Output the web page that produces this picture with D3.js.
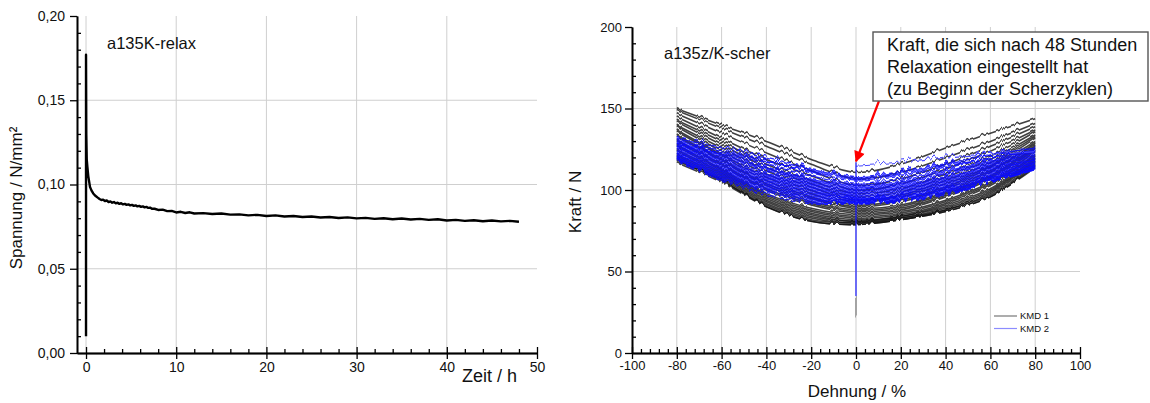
<!DOCTYPE html>
<html><head><meta charset="utf-8">
<script src="https://cdn.jsdelivr.net/npm/d3@7"></script>
<style>
body{margin:0;background:#fff}
svg{display:block}
text{font-family:"Liberation Sans",Arial,Helvetica,sans-serif;fill:#111}
</style>
</head><body>
<svg id="c" width="1150" height="403"></svg>
<script>
// ---------- LEFT CHART DATA (Relaxation) ----------
const relaxTime = [0,0,0.03,0.08,0.15,0.25,0.44,0.6,0.8,1.0,1.3,
  1.5,1.7,1.9,2.1,2.3,2.5,2.7,2.9,3.1,3.3,3.5,3.7,3.9,4.1,4.3,4.5,4.7,4.9,5.1,5.3,5.5,5.7,5.9,6.1,6.3,6.5,6.7,6.9,7.1,7.3,
  7.6,8,8.5,9,9.5,10,10.5,11,11.5,12,13,14,15,16,17,18,19,20,21,22,23,24,25,26,27,28,29,30,31,32,33,34,35,36,37,38,39,40,41,42,43,44,45,46,47,48];
const relaxStress = [0.010,0.177,0.130,0.115,0.1105,0.105,0.0986,0.0965,0.0947,0.0935,0.0922,
  0.0914,0.0908,0.0910,0.0902,0.0905,0.0896,0.0900,0.0892,0.0896,0.0888,0.0892,0.0885,0.0889,0.0882,0.0885,0.0879,0.0882,0.0876,0.0879,0.0873,0.0876,0.0870,0.0873,0.0867,0.0870,0.0864,0.0867,0.0861,0.0863,0.0856,
  0.0856,0.0849,0.0851,0.0842,0.0843,0.0834,0.0838,0.0831,0.0835,0.0828,0.0830,0.0825,0.0828,0.0821,0.0823,0.0817,0.0820,0.0813,0.0817,0.0810,0.0813,0.0807,0.0810,0.0804,0.0807,0.0801,0.0805,0.0799,0.0802,0.0796,0.0800,0.0794,0.0798,0.0792,0.0796,0.0790,0.0794,0.0786,0.0790,0.0784,0.0788,0.0782,0.0786,0.0781,0.0784,0.0779];
const leftXTicks = [0,10,20,30,40,50];
const leftYTicks = [0,0.05,0.10,0.15,0.20];
const leftTitle = "a135K-relax";
const leftXLabel = "Zeit / h";
const leftYLabel = "Spannung / N/mm²";

// ---------- RIGHT CHART DATA (Shear cycles) ----------
const strainPts = [-80,-60,-40,-20,0,20,40,60,80];
const kmd1Cycles = [
  [151,141,131,120,112,117,127,136,145],
  [150,139,128,117,108,112,121,131,142],
  [148,136,124,113,104,108,117,128,140],
  [146,133,120,110,101,105,114,125,138],
  [144,131,117,107,99,102,111,122,137],
  [143,129,115,105,97,100,109,120,135],
  [141,127,113,103,95,98,107,118,134],
  [140,125,111,101,94,97,105,116,133],
  [138,123,109,99,92,95,103,115,131],
  [137,122,107,97,91,94,102,113,130],
  [135,120,105,96,90,92,100,112,129],
  [134,119,104,94,89,91,99,110,128],
  [132,117,102,93,88,90,98,109,127],
  [131,116,101,92,87,89,97,108,126],
  [129,114,99,90,86,88,95,106,125],
  [128,113,98,89,85,87,94,105,123],
  [126,112,97,88,84,86,93,104,122],
  [125,111,96,87,83,85,92,102,121],
  [123,110,95,86,82,85,91,101,120],
  [122,109,94,85,82,84,90,100,119],
  [121,108,93,84,81,84,89,99,118],
  [120,107,92,83,81,83,89,98,117],
  [119,107,91,82,80,83,88,97,116],
  [118,106,91,82,80,83,88,97,115]
];
const kmd2Cycles = [
  [134,128,122,115,110,113,118,124,128],
  [130,124.5,119.5,114,109,112,117,122,126],
  [133,126,120,113,108,111,116,122,127],
  [132,124,118,111,106,109,114,120,126],
  [131,123,116,109,105,107,113,119,125],
  [130,122,115,108,104,106,112,118,124],
  [129,121,114,107,103,105,110,117,123],
  [128,120,112,106,102,104,109,116,122],
  [128,119,111,105,101,103,108,115,121],
  [127,118,110,104,100,102,107,114,121],
  [126,117,109,103,99,101,106,113,120],
  [125,116,108,102,98,100,105,112,119],
  [124,115,107,101,97,99,104,111,119],
  [124,114,106,100,97,98,103,110,118],
  [123,113,105,99,96,98,102,109,117],
  [122,112,104,98,96,97,102,109,117],
  [122,111,103,97,95,96,101,108,116],
  [121,110,102,96,95,96,100,107,116],
  [121,109,101,95,94,95,100,107,115],
  [120,108,99,94,94,95,99,107,115]
];
const kmd2StartStrain = [0,20,40,60,80];
const kmd2StartForce = [117,119,122,124,126];
const spikeStrain = 0;
const kmd1SpikeForce = [23,35];
const kmd2SpikeForce = [35,117];
const rightXTicks = [-100,-80,-60,-40,-20,0,20,40,60,80,100];
const rightYTicks = [0,50,100,150,200];
const rightTitle = "a135z/K-scher";
const rightXLabel = "Dehnung / %";
const rightYLabel = "Kraft / N";
const legendNames = ["KMD 1","KMD 2"];
const noteLines = ["Kraft, die sich nach 48 Stunden","Relaxation eingestellt hat","(zu Beginn der Scherzyklen)"];

// ---------- DRAW ----------
const svg = d3.select("#c");
const defs = svg.append("defs");
function wiggle(id, scale, freq){
  const f = defs.append("filter").attr("id",id).attr("filterUnits","userSpaceOnUse")
    .attr("x",620).attr("y",15).attr("width",480).attr("height",350)
    .attr("color-interpolation-filters","sRGB");
  f.append("feTurbulence").attr("type","turbulence").attr("baseFrequency",freq+" 0")
    .attr("numOctaves",1).attr("seed",4).attr("result","t");
  f.append("feColorMatrix").attr("in","t").attr("type","matrix")
    .attr("values","0 0 0 0 0.5  0 1.6 0 0 -0.1  0 0 0 0 0.5  0 0 0 0 1").attr("result","m");
  f.append("feDisplacementMap").attr("in","SourceGraphic").attr("in2","m")
    .attr("scale",scale).attr("xChannelSelector","R").attr("yChannelSelector","G");
}
wiggle("wigBlue", 7, 0.16);
wiggle("wigBlack", 4, 0.2);
defs.append("marker").attr("id","arr").attr("viewBox","0 0 10 10").attr("refX",9).attr("refY",5)
  .attr("markerWidth",5.5).attr("markerHeight",5).attr("orient","auto").attr("markerUnits","strokeWidth")
  .append("path").attr("d","M0,0L10,5L0,10z").attr("fill","#ff0000");

const range = (a,b,s)=>d3.range(a,b+s/2,s).map(v=>+v.toFixed(4));

function drawAxes(g, x, y, o){
  const [x0,x1] = x.range(), [y0,y1] = y.range();
  g.append("g").selectAll("line").data(o.xGrid).join("line")
    .attr("x1",d=>x(d)).attr("x2",d=>x(d)).attr("y1",y0).attr("y2",y1)
    .attr("stroke","#cfcfcf").attr("stroke-width",1);
  g.append("g").selectAll("line").data(o.yGrid).join("line")
    .attr("x1",x0).attr("x2",x1).attr("y1",d=>y(d)).attr("y2",d=>y(d))
    .attr("stroke","#cfcfcf").attr("stroke-width",1);
  const parts = [];
  const tx = `translate(0,${y0})`, ty = `translate(${x0},0)`;
  parts.push(g.append("g").attr("transform",tx).call(d3.axisTop(x).tickValues(o.xMinor).tickSize(4).tickSizeOuter(0).tickFormat("")));
  parts.push(g.append("g").attr("transform",tx).call(d3.axisTop(x).tickValues(o.xTicks).tickSize(6).tickSizeOuter(0).tickFormat("")));
  const ax = g.append("g").attr("transform",tx)
    .call(d3.axisBottom(x).tickValues(o.xTicks).tickSize(6).tickSizeOuter(0).tickFormat(o.xFmt));
  ax.selectAll("text").attr("y",o.xLabY).attr("dy","0.35em").style("font-size",o.fs+"px");
  parts.push(ax);
  parts.push(g.append("g").attr("transform",ty).call(d3.axisRight(y).tickValues(o.yMinor).tickSize(4).tickSizeOuter(0).tickFormat("")));
  const ay = g.append("g").attr("transform",ty)
    .call(d3.axisLeft(y).tickValues(o.yTicks).tickSize(7).tickSizeOuter(0).tickFormat(o.yFmt));
  ay.selectAll("text").attr("x",-o.yLabX).style("font-size",o.fs+"px");
  parts.push(ay);
  parts.forEach(p=>{
    p.selectAll("path.domain").attr("stroke","#000").attr("stroke-width",1.6);
    p.selectAll("line").attr("stroke","#000").attr("stroke-width",1.3);
    p.selectAll("text").attr("fill","#111").style("font-family",null);
    p.attr("font-family",null);
  });
}

// ===== Left chart =====
const lx = d3.scaleLinear().domain([-1,50]).range([77,537]);
const ly = d3.scaleLinear().domain([0,0.2]).range([353,16]);
const gl = svg.append("g");
drawAxes(gl, lx, ly, {
  xGrid:[0,10,20,30,40], yGrid:[0.05,0.10,0.15],
  xTicks:leftXTicks, xMinor:range(0,50,2).filter(v=>v%10!==0),
  yTicks:leftYTicks, yMinor:range(0,0.2,0.01).filter(v=>Math.round(v*100)%5!==0),
  xFmt:d=>String(d), yFmt:d=>d.toFixed(2).replace(".",","),
  xLabY:14, yLabX:12, fs:14
});
const relax = relaxTime.map((t,i)=>[t,relaxStress[i]]);
gl.append("path").datum(relax)
  .attr("d",d3.line().x(d=>lx(d[0])).y(d=>ly(d[1])))
  .attr("fill","none").attr("stroke","#000").attr("stroke-width",2.4).attr("stroke-linejoin","round");
gl.append("text").attr("x",107).attr("y",49).style("font-size","16.5px").text(leftTitle);
gl.append("text").attr("x",462).attr("y",382).style("font-size","18px").text(leftXLabel);
gl.append("text").attr("transform","translate(16,198) rotate(-90)").attr("text-anchor","middle")
  .attr("dy","0.35em").style("font-size","17px").text(leftYLabel);

// ===== Right chart =====
const rx = d3.scaleLinear().domain([-100,100]).range([632,1080]);
const ry = d3.scaleLinear().domain([0,200]).range([353,27]);
const gr = svg.append("g");
drawAxes(gr, rx, ry, {
  xGrid:[-80,-60,-40,-20,0,20,40,60,80], yGrid:[50,100,150],
  xTicks:rightXTicks, xMinor:range(-100,100,4).filter(v=>v%20!==0),
  yTicks:rightYTicks, yMinor:range(0,200,10).filter(v=>v%50!==0),
  xFmt:d=>String(d), yFmt:d=>String(d),
  xLabY:12, yLabX:10, fs:13
});
const cyc = d3.line().x(d=>rx(d[0])).y(d=>ry(d[1])).curve(d3.curveCatmullRom.alpha(0.5));
const gBlack = gr.append("g").attr("filter","url(#wigBlack)");
gBlack.selectAll("path").data(kmd1Cycles).join("path")
  .attr("d",c=>cyc(strainPts.map((s,i)=>[s,c[i]])))
  .attr("fill","none").attr("stroke","#111").attr("stroke-width",1.6).attr("stroke-opacity",0.8);
gBlack.append("path").datum(kmd1SpikeForce.map(f=>[spikeStrain,f]))
  .attr("d",d3.line().x(d=>rx(d[0])).y(d=>ry(d[1])))
  .attr("stroke","#777").attr("stroke-width",1.2);
const gBlue = gr.append("g").attr("filter","url(#wigBlue)");
gBlue.selectAll("path.c").data(kmd2Cycles).join("path").attr("class","c")
  .attr("d",c=>cyc(strainPts.map((s,i)=>[s,c[i]])))
  .attr("fill","none").attr("stroke","#0a0aff").attr("stroke-width",1.5).attr("stroke-opacity",0.85);
gBlue.append("path").datum(kmd2StartStrain.map((s,i)=>[s,kmd2StartForce[i]]))
  .attr("d",cyc).attr("fill","none").attr("stroke","#4a4aff").attr("stroke-width",1.1);
gr.append("path").datum(kmd2SpikeForce.map(f=>[spikeStrain,f]))
  .attr("d",d3.line().x(d=>rx(d[0])).y(d=>ry(d[1])))
  .attr("stroke","#1a1aff").attr("stroke-width",1.2);

gr.append("text").attr("x",664).attr("y",59).style("font-size","16.5px").text(rightTitle);
gr.append("text").attr("x",857).attr("y",397).attr("text-anchor","middle").style("font-size","17px").text(rightXLabel);
gr.append("text").attr("transform","translate(575,202) rotate(-90)").attr("text-anchor","middle")
  .attr("dy","0.35em").style("font-size","17px").text(rightYLabel);

// legend
const legColors = ["#777777","#8c8cff"];
const lg = gr.append("g");
legendNames.forEach((n,i)=>{
  lg.append("line").attr("x1",994).attr("x2",1017).attr("y1",316+i*12.5).attr("y2",316+i*12.5)
    .attr("stroke",legColors[i]).attr("stroke-width",1.2);
  lg.append("text").attr("x",1020).attr("y",316+i*12.5).attr("dy","0.35em")
    .style("font-size","9.5px").attr("fill","#333").text(n);
});

// annotation
gr.append("line").attr("x1",879).attr("y1",101).attr("x2",rx(spikeStrain)).attr("y2",ry(kmd2SpikeForce[1])-1)
  .attr("stroke","#ff0000").attr("stroke-width",2.2).attr("marker-end","url(#arr)");
gr.append("rect").attr("x",873).attr("y",32).attr("width",275).attr("height",69)
  .attr("fill","#fff").attr("stroke","#555").attr("stroke-width",1.4);
noteLines.forEach((t,i)=>{
  gr.append("text").attr("x",887).attr("y",51+i*22).style("font-size","18px").text(t);
});
</script>
</body></html>
